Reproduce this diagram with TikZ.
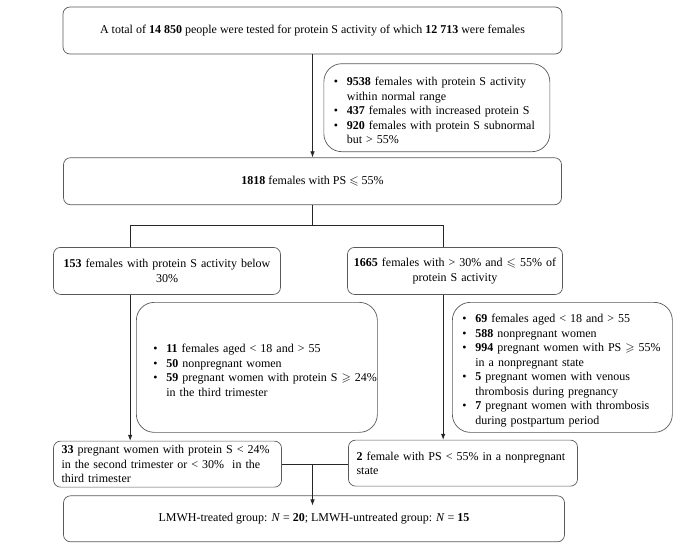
\documentclass[tikz,border=0pt]{standalone}
\usepackage{amssymb}
\usepackage{fontspec}
\setmainfont{Liberation Serif}
\usetikzlibrary{arrows.meta, positioning}

% bullet line with hanging indent
\newcommand{\bul}{\par\hangindent=13pt\hangafter=1\noindent\makebox[13pt][l]{\textbullet}}

\begin{document}
\begin{tikzpicture}[
    x=1pt, y=1pt,
    every node/.style={draw=black!65, line width=0.7pt, rounded corners=7pt, inner sep=0pt,
        font=\fontsize{12pt}{14.5pt}\selectfont},
    box/.style={align=center, minimum height=47pt},
    listbox/.style={rounded corners=18pt, align=left, anchor=north west},
    line/.style={line width=0.7pt, draw=black!85},
    arrow/.style={line, -{Latex[length=6pt, width=4.5pt]}}
]
\useasboundingbox (0,0) rectangle (700,-550);

% Nodes
\node[box, minimum width=499pt] (total) at (312.5,-30.5)
    {A total of \textbf{14 850} people were tested for protein S activity of which \textbf{12 713} were females};
\node[box, minimum width=498pt, below=103pt of total] (ps55)
    {\textbf{1818} females with PS $\leqslant$ 55\%};
\node[listbox, minimum width=226pt, minimum height=88pt, text width=206pt,
      below right=9pt and 11pt of total.south] (excl1)
    {\bul\textbf{9538} females with protein S activity\newline within normal range
     \bul\textbf{437} females with increased protein S
     \bul\textbf{920} females with protein S subnormal\newline but > 55\%\par};
\node[box, minimum width=227pt, text width=215pt,
      below right=42pt and -10pt of ps55.south west] (low)
    {\textbf{153} females with protein S activity below\\30\%};
\node[box, minimum width=215pt, text width=205pt,
      below right=42pt and 284pt of ps55.south west] (mid)
    {\textbf{1665} females with > 30\% and $\leqslant$ 55\% of\\protein S activity};
\node[listbox, minimum width=241pt, minimum height=130pt, text width=207pt] (exclL) at (136,-302)
    {\bul\textbf{11} females aged < 18 and > 55
     \bul\textbf{50} nonpregnant women
     \bul\mbox{\textbf{59} pregnant women with protein S $\geqslant$ 24\%}\newline in the third trimester\par};
\node[listbox, minimum width=220pt, minimum height=130pt, text width=200pt] (exclR) at (452,-302)
    {\bul\textbf{69} females aged < 18 and > 55
     \bul\textbf{588} nonpregnant women
     \bul\textbf{994} pregnant women with PS $\geqslant$ 55\%\newline in a nonpregnant state
     \bul\textbf{5} pregnant women with venous\newline thrombosis during pregnancy
     \bul\textbf{7} pregnant women with thrombosis\newline during postpartum period\par};
\node[box, align=left, minimum width=228pt, minimum height=46pt, text width=212pt,
      below right=146pt and 0pt of low.south west] (preg)
    {\textbf{33} pregnant women with protein S < 24\%\\in the second trimester or < 30\%~ in the\\third trimester};
\node[box, align=left, minimum width=229pt, minimum height=46pt, text width=213pt,
      below right=145pt and 1pt of mid.south west] (nonpreg)
    {\textbf{2} female with PS < 55\% in a nonpregnant\\state};
\node[box, minimum width=501pt, minimum height=46pt,
      below right=8pt and 10pt of preg.south west] (groups)
    {LMWH-treated group: \textit{N} = \textbf{20}; LMWH-untreated group: \textit{N} = \textbf{15}};

% Edges
\coordinate[below=20pt of ps55.south] (fork);
\coordinate (lowin) at ([xshift=77pt]low.north west);
\coordinate (midin) at ([xshift=96pt]mid.north west);
\coordinate (join) at (preg.east -| total.south);

\draw[arrow] (total.south) -- (total.south |- ps55.north);
\draw[line] (ps55.south) -- (fork);
\draw[line] (lowin) |- (fork) -| (midin);
\draw[arrow] (low.south -| lowin) -- (preg.north -| lowin);
\draw[arrow] (mid.south -| midin) -- (nonpreg.north -| midin);
\draw[line] (preg.east) -- (preg.east -| nonpreg.west);
\draw[arrow] (join) -- ([yshift=-10pt]join |- groups.north);

\end{tikzpicture}
\end{document}
